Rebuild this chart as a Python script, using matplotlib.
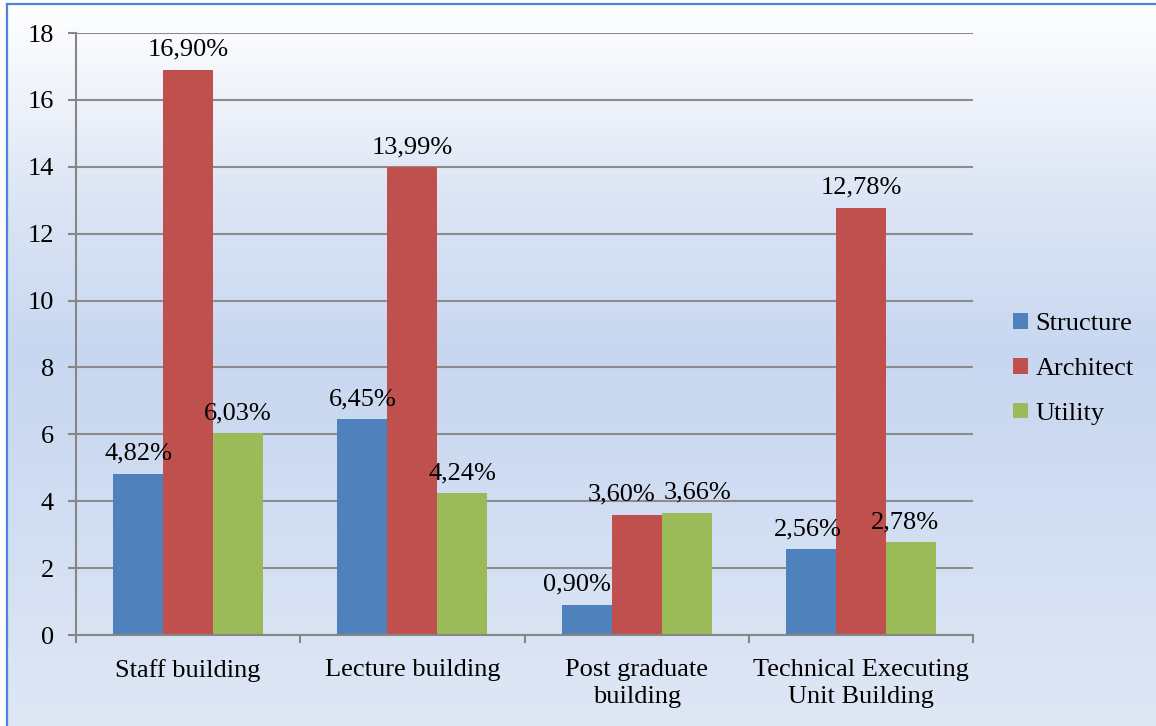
import matplotlib
matplotlib.use("Agg")
import matplotlib.pyplot as plt
import numpy as np
from matplotlib.colors import LinearSegmentedColormap

categories = ["Staff building", "Lecture building", "Post graduate\nbuilding",
              "Technical Executing\nUnit Building"]
series_names = ["Structure", "Architect", "Utility"]
structure = [4.82, 6.45, 0.90, 2.56]
architect = [16.90, 13.99, 3.60, 12.78]
utility = [6.03, 4.24, 3.66, 2.78]
yticks = [0, 2, 4, 6, 8, 10, 12, 14, 16, 18]

# horizontal nudges (points) of some data labels, as in the reference layout
label_dx = {(0, 2): -7, (1, 2): -11, (2, 2): 8, (0, 3): -2, (2, 3): -4}

colors = ["#4F81BD", "#C0504D", "#9BBB59"]
plt.rcParams['font.family'] = ['Liberation Serif', 'DejaVu Serif']
FS = 19

W, H = 1156, 726
fig = plt.figure(figsize=(W / 100, H / 100), dpi=100, facecolor="white")

# gradient background with border
bg = fig.add_axes([7 / W, 0, 1 - 7 / W, (H - 4) / H], zorder=-5)
stops = [(0.0, "#FFFFFF"), (0.27, "#DCE5F5"), (0.48, "#C8D7F0"),
         (0.69, "#D0DDF2"), (1.0, "#DFE7F5")]
cmap = LinearSegmentedColormap.from_list("bg", stops)
grad = np.linspace(0, 1, 512).reshape(-1, 1)
bg.imshow(grad, aspect="auto", cmap=cmap, extent=[0, 1, 0, 1], origin="upper")
bg.set_xlim(0, 1)
bg.set_ylim(0, 1)
bg.set_xticks([])
bg.set_yticks([])
for s in ["right", "bottom"]:
    bg.spines[s].set_visible(False)
for s in ["left", "top"]:
    bg.spines[s].set_color("#4A86D8")
    bg.spines[s].set_linewidth(1.6)

ax = fig.add_axes([76 / W, (H - 635) / H, (973 - 76) / W, (635 - 33) / H])
ax.set_facecolor("none")

x = np.arange(len(categories))
bw = 0.223
data = [structure, architect, utility]
for i, (name, vals) in enumerate(zip(series_names, data)):
    xs = x + (i - 1) * bw
    ax.bar(xs, vals, width=bw, color=colors[i], label=name, zorder=3)
    for j, (xi, v) in enumerate(zip(xs, vals)):
        dx = label_dx.get((i, j), 0)
        ax.annotate(f"{v:.2f}%".replace(".", ","), (xi, v), xytext=(dx, 6.5),
                    textcoords="offset points", ha="center", va="bottom",
                    fontsize=FS, zorder=5)

ax.set_xlim(-0.5, len(categories) - 0.5)
ax.set_ylim(0, 18)
ax.set_yticks(yticks)
ax.set_yticklabels([str(t) for t in yticks], fontsize=FS)
ax.set_xticks(x)
ax.set_xticklabels(categories, fontsize=FS, linespacing=1.32)
ax.set_xticks(np.arange(-0.5, len(categories)), minor=True)
ax.tick_params(axis="x", which="major", length=0, pad=17)
ax.tick_params(axis="x", which="minor", length=6, width=1.5, color="#868686", direction="out")
ax.tick_params(axis="y", length=6, width=1.5, color="#868686", direction="out", pad=10)
ax.yaxis.grid(True, color="#8C8C8C", linewidth=1.5, zorder=1)
ax.set_axisbelow(True)
for s in ["top", "right"]:
    ax.spines[s].set_visible(False)
for s in ["left", "bottom"]:
    ax.spines[s].set_color("#868686")
    ax.spines[s].set_linewidth(1.5)
    ax.spines[s].set_zorder(4)

leg = ax.legend(loc="center left", bbox_to_anchor=(1000 / W, (H - 369) / H),
                bbox_transform=fig.transFigure, frameon=False, fontsize=FS,
                handlelength=0.55, handleheight=0.55, handletextpad=0.3,
                labelspacing=0.85, borderpad=0)

fig.savefig("out.png", dpi=100, facecolor="white")
